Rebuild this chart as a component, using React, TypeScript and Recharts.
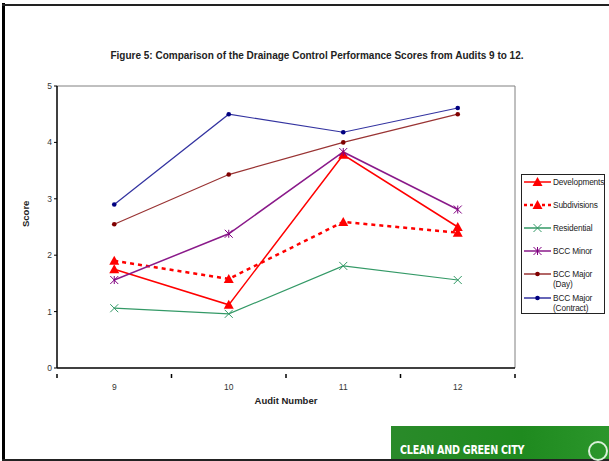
import { LineChart, Line, XAxis, YAxis, ReferenceLine } from "recharts";

const audits = [9, 10, 11, 12];
const developments = [1.75, 1.12, 3.78, 2.5];
const subdivisions = [1.9, 1.58, 2.59, 2.4];
const residential = [1.06, 0.96, 1.81, 1.56];
const bccMinor = [1.56, 2.38, 3.83, 2.81];
const bccMajorDay = [2.55, 3.43, 4.0, 4.5];
const bccMajorContract = [2.9, 4.5, 4.18, 4.61];
const yTicks = [0, 1, 2, 3, 4, 5];
const xTicks = [8.5, 9, 9.5, 10, 10.5, 11, 11.5, 12, 12.5];

const data = audits.map((a, i) => ({
  audit: a,
  developments: developments[i],
  subdivisions: subdivisions[i],
  residential: residential[i],
  bccMinor: bccMinor[i],
  bccMajorDay: bccMajorDay[i],
  bccMajorContract: bccMajorContract[i],
}));

const FONT = "'Liberation Sans', Arial, sans-serif";

type Shape = "tri" | "x" | "star" | "dot";

const Marker = ({ cx, cy, shape, color }: { cx: number; cy: number; shape: Shape; color: string }) => {
  if (shape === "tri")
    return <path d={`M${cx},${cy - 5} L${cx + 5},${cy + 4} L${cx - 5},${cy + 4} Z`} fill={color} />;
  if (shape === "x")
    return <path d={`M${cx - 4},${cy - 4} L${cx + 4},${cy + 4} M${cx - 4},${cy + 4} L${cx + 4},${cy - 4}`} stroke={color} strokeWidth={1} />;
  if (shape === "star")
    return (
      <path
        d={`M${cx - 4},${cy - 4} L${cx + 4},${cy + 4} M${cx - 4},${cy + 4} L${cx + 4},${cy - 4} M${cx},${cy - 4} L${cx},${cy + 4}`}
        stroke={color}
        strokeWidth={1}
      />
    );
  return <circle cx={cx} cy={cy} r={2.3} fill={color} />;
};

const dot = (shape: Shape, color: string) => (p: any) =>
  <Marker key={p.index} cx={p.cx} cy={p.cy} shape={shape} color={color} />;

const series = [
  { key: "developments", name: "Developments", color: "#ff0000", line: "#ff0000", shape: "tri" as Shape, dash: undefined, w: 1.5 },
  { key: "subdivisions", name: "Subdivisions", color: "#ff0000", line: "#ff0000", shape: "tri" as Shape, dash: "4 4", w: 2.5 },
  { key: "residential", name: "Residential", color: "#339966", line: "#339966", shape: "x" as Shape, dash: undefined, w: 1.2 },
  { key: "bccMinor", name: "BCC Minor", color: "#800080", line: "#8a1a8a", shape: "star" as Shape, dash: undefined, w: 1.5 },
  { key: "bccMajorDay", name: "BCC Major (Day)", color: "#800000", line: "#993333", shape: "dot" as Shape, dash: undefined, w: 1.2 },
  { key: "bccMajorContract", name: "BCC Major (Contract)", color: "#000080", line: "#3333a0", shape: "dot" as Shape, dash: undefined, w: 1.2 },
];

const XTick = (props: any) => {
  const { x, y, payload } = props;
  if (Number.isInteger(payload.value))
    return (
      <text x={x} y={y + 14} textAnchor="middle" fontSize={8.5} fill="#333" fontFamily={FONT}>
        {payload.value}
      </text>
    );
  return <line x1={x} x2={x} y1={y - 2} y2={y + 2} stroke="#000" strokeWidth={1.5} />;
};

const LegendBox = () => (
  <div
    style={{
      position: "absolute",
      left: 521,
      top: 174,
      width: 84,
      height: 140,
      boxSizing: "border-box",
      border: "1px solid #222",
      background: "#fff",
      padding: "2px 0 0 1px",
      fontFamily: FONT,
      fontSize: 8.3,
      color: "#222",
    }}
  >
    {series.map((s, i) => (
      <div key={s.key} style={{ display: "flex", alignItems: "flex-start", height: i < 4 ? 23 : 23.5, whiteSpace: i < 4 ? "nowrap" : "normal" }}>
        <svg width={29} height={10} style={{ flex: "none" }}>
          <line x1={1} x2={28} y1={5} y2={5} stroke={s.line} strokeWidth={s.dash ? 2.5 : 1.5} strokeDasharray={s.dash ? "3 3" : undefined} />
          <Marker cx={14.5} cy={5} shape={s.shape} color={s.color} />
        </svg>
        <span style={{ lineHeight: "10px", width: 52, marginLeft: 1, letterSpacing: -0.15 }}>{s.name}</span>
      </div>
    ))}
  </div>
);

export default function App() {
  return (
    <div style={{ position: "fixed", left: 0, top: 0, width: 609, height: 461, background: "#fff", overflow: "hidden" }}>
      <div style={{ position: "absolute", left: 2, top: 3, width: 3, height: 458, background: "#000" }} />
      <div style={{ position: "absolute", left: 2, top: 4, width: 607, height: 2, background: "#222" }} />
      <div style={{ position: "absolute", left: 2, top: 459, width: 607, height: 2, background: "#222" }} />
      <div
        style={{
          position: "absolute",
          left: 0,
          top: 50,
          width: 634,
          textAlign: "center",
          fontFamily: FONT,
          fontWeight: "bold",
          fontSize: 10,
          color: "#222",
        }}
      >
        Figure 5: Comparison of the Drainage Control Performance Scores from Audits 9 to 12.
      </div>
      <div style={{ position: "absolute", left: 0, top: 0 }}>
        <LineChart width={609} height={461} data={data} margin={{ top: 86, right: 94, bottom: 57, left: 20 }}>
          <XAxis
            dataKey="audit"
            type="number"
            domain={[8.5, 12.5]}
            ticks={xTicks}
            interval={0}
            tick={<XTick />}
            tickLine={false}
            axisLine={{ stroke: "#000", strokeWidth: 1.5 }}
            height={36}
            label={{ value: "Audit Number", position: "insideBottom", offset: 0, fontSize: 9.5, fontWeight: "bold", fill: "#222", fontFamily: FONT }}
          />
          <YAxis
            domain={[0, 5]}
            ticks={yTicks}
            interval={0}
            width={37}
            tick={{ fontSize: 8.5, fill: "#333", fontFamily: FONT }}
            tickSize={3}
            tickLine={{ stroke: "#000" }}
            axisLine={{ stroke: "#000", strokeWidth: 1.5 }}
            label={{ value: "Score", angle: -90, position: "insideLeft", offset: 6, fontSize: 9.5, fontWeight: "bold", fill: "#222", fontFamily: FONT }}
          />
          <ReferenceLine y={5} stroke="#808080" strokeWidth={1} />
          <ReferenceLine x={12.5} stroke="#808080" strokeWidth={1} />
          {series.map((s) => (
            <Line
              key={s.key}
              dataKey={s.key}
              name={s.name}
              stroke={s.line}
              strokeWidth={s.w}
              strokeDasharray={s.dash}
              dot={dot(s.shape, s.color)}
              activeDot={false}
              isAnimationActive={false}
            />
          ))}
        </LineChart>
      </div>
      <LegendBox />
      <div
        style={{
          position: "absolute",
          left: 391,
          top: 426,
          width: 218,
          height: 33,
          background: "linear-gradient(90deg, #2a8a2a, #1f8a1f 60%, #2b962b)",
        }}
      >
        <div
          style={{
            position: "absolute",
            left: 9,
            top: 16,
            fontFamily: "'Liberation Sans Narrow', 'DejaVu Sans Condensed', sans-serif",
            fontWeight: "bold",
            fontSize: 13,
            lineHeight: "15px",
            color: "#fff",
            letterSpacing: -0.3,
            transform: "scaleX(0.82)",
            transformOrigin: "left",
          }}
        >
          CLEAN AND GREEN CITY
        </div>
        <div
          style={{
            position: "absolute",
            left: 197,
            top: 15,
            width: 16,
            height: 16,
            borderRadius: "50%",
            border: "2px solid #d8f0d8",
          }}
        />
      </div>
    </div>
  );
}
